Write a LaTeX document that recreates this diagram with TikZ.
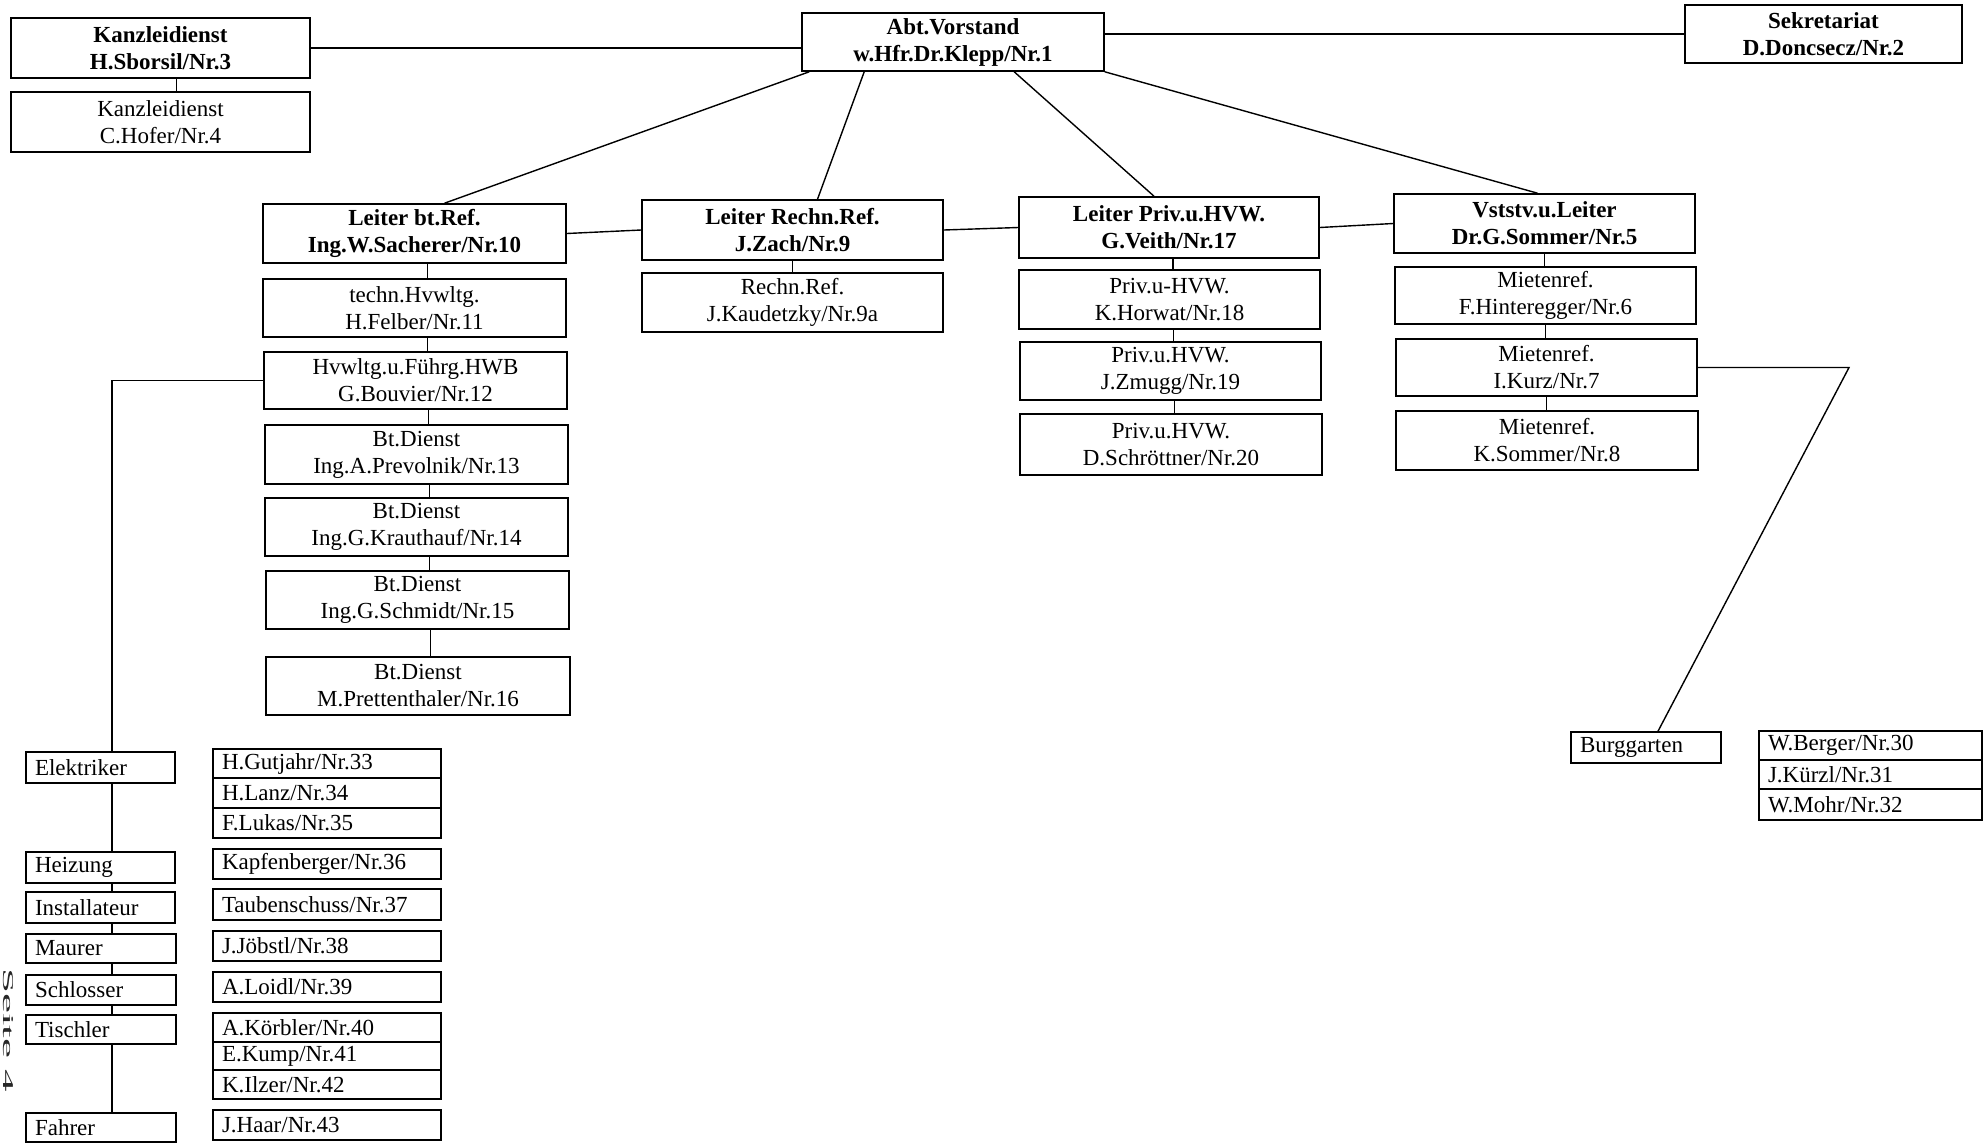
\documentclass[tikz,border=0pt]{standalone}
\usepackage{fontspec}
\setmainfont{Liberation Serif}
\usetikzlibrary{backgrounds}
\tikzset{
  box/.style={draw, fill=white, line width=1.6pt, inner sep=0pt, align=center},
  head/.style={box, font=\bfseries\fontsize{23}{27}\selectfont},
  std/.style={box, font=\fontsize{23}{27}\selectfont},
  lbox/.style={draw, fill=white, line width=1.6pt, inner xsep=9pt, inner ysep=0pt, align=left, font=\fontsize{23}{26}\selectfont},
  link/.style={line width=1.4pt},
}
\newcommand{\orgbox}[7]{%
  \pgfmathsetmacro\obx{(#3+#5)/2}%
  \pgfmathsetmacro\oby{(#4+#6)/2}%
  \pgfmathsetmacro\obw{#5-#3}%
  \pgfmathsetmacro\obh{#6-#4}%
  \node[#1, minimum width=\obw pt, minimum height=\obh pt] (#2) at (\obx,\oby) {#7};}
\newcommand{\listbox}[6]{%
  \pgfmathsetmacro\obx{(#2+#4)/2}%
  \pgfmathsetmacro\oby{(#3+#5)/2}%
  \pgfmathsetmacro\obw{#4-#2-18}%
  \pgfmathsetmacro\obh{#5-#3}%
  \node[lbox, text width=\obw pt, minimum height=\obh pt] (#1) at (\obx,\oby) {#6};}
\newcommand{\vlink}[3]{\draw[link] ([xshift=#3pt]#1.south) -- ([xshift=#3pt]#1.south |- #2.north);}
\begin{document}
\begin{tikzpicture}[x=1pt, y=-1pt]
\useasboundingbox (0,0) rectangle (1985,1144);
% top row
\orgbox{head}{k1}{11}{18}{310}{78}{Kanzleidienst\\H.Sborsil/Nr.3}
\orgbox{std}{k2}{11}{92}{310}{152}{Kanzleidienst\\C.Hofer/Nr.4}
\orgbox{head}{abt}{802}{13}{1104}{71}{Abt.Vorstand\\w.Hfr.Dr.Klepp/Nr.1}
\orgbox{head}{sek}{1685}{5}{1962}{63}{Sekretariat\\D.Doncsecz/Nr.2}
% leaders
\orgbox{head}{l10}{263}{204}{566}{263}{Leiter bt.Ref.\\Ing.W.Sacherer/Nr.10}
\orgbox{head}{l9}{642}{200}{943}{260}{Leiter Rechn.Ref.\\J.Zach/Nr.9}
\orgbox{head}{l17}{1019}{197}{1319}{258}{Leiter Priv.u.HVW.\\G.Veith/Nr.17}
\orgbox{head}{l5}{1394}{194}{1695}{253}{Vststv.u.Leiter\\Dr.G.Sommer/Nr.5}
% column 1
\orgbox{std}{n11}{263}{279}{566}{337}{techn.Hvwltg.\\H.Felber/Nr.11}
\orgbox{std}{n12}{264}{352}{567}{409}{Hvwltg.u.Führg.HWB\\G.Bouvier/Nr.12}
\orgbox{std}{n13}{265}{425}{568}{484}{Bt.Dienst\\Ing.A.Prevolnik/Nr.13}
\orgbox{std}{n14}{265}{498}{568}{556}{Bt.Dienst\\Ing.G.Krauthauf/Nr.14}
\orgbox{std}{n15}{266}{571}{569}{629}{Bt.Dienst\\Ing.G.Schmidt/Nr.15}
\orgbox{std}{n16}{266}{657}{570}{715}{Bt.Dienst\\M.Prettenthaler/Nr.16}
% column 2
\orgbox{std}{n9a}{642}{273}{943}{332}{Rechn.Ref.\\J.Kaudetzky/Nr.9a}
% column 3
\orgbox{std}{n18}{1019}{270}{1320}{329}{Priv.u-HVW.\\K.Horwat/Nr.18}
\orgbox{std}{n19}{1020}{342}{1321}{400}{Priv.u.HVW.\\J.Zmugg/Nr.19}
\orgbox{std}{n20}{1020}{414}{1322}{475}{Priv.u.HVW.\\D.Schröttner/Nr.20}
% column 4
\orgbox{std}{n6}{1395}{267}{1696}{324}{Mietenref.\\F.Hinteregger/Nr.6}
\orgbox{std}{n7}{1396}{339}{1697}{396}{Mietenref.\\I.Kurz/Nr.7}
\orgbox{std}{n8}{1396}{411}{1698}{470}{Mietenref.\\K.Sommer/Nr.8}
% Burggarten
\listbox{burg}{1571}{732}{1721}{763}{Burggarten}
\listbox{w30}{1759}{731}{1982}{760}{W.Berger/Nr.30}
\listbox{w31}{1759}{760}{1982}{789}{J.Kürzl/Nr.31}
\listbox{w32}{1759}{789}{1982}{820}{W.Mohr/Nr.32}
% trades
\listbox{elek}{26}{752}{175}{783}{Elektriker}
\listbox{heiz}{26}{852}{175}{883}{Heizung}
\listbox{inst}{26}{892}{175}{923}{Installateur}
\listbox{maur}{26}{934}{176}{963}{Maurer}
\listbox{schl}{26}{975}{176}{1005}{Schlosser}
\listbox{tisch}{26}{1015}{176}{1044}{Tischler}
\listbox{fahr}{26}{1113}{176}{1142}{Fahrer}
\listbox{g33}{213}{749}{441}{778}{H.Gutjahr/Nr.33}
\listbox{g34}{213}{778}{441}{808}{H.Lanz/Nr.34}
\listbox{g35}{213}{808}{441}{838}{F.Lukas/Nr.35}
\listbox{g36}{213}{849}{441}{879}{Kapfenberger/Nr.36}
\listbox{g37}{213}{889}{441}{920}{Taubenschuss/Nr.37}
\listbox{g38}{213}{931}{441}{961}{J.Jöbstl/Nr.38}
\listbox{g39}{213}{972}{441}{1002}{A.Loidl/Nr.39}
\listbox{g40}{213}{1013}{441}{1042}{A.Körbler/Nr.40}
\listbox{g41}{213}{1042}{441}{1070}{E.Kump/Nr.41}
\listbox{g42}{213}{1070}{441}{1099}{K.Ilzer/Nr.42}
\listbox{g43}{213}{1110}{441}{1140}{J.Haar/Nr.43}
% page marker at the left edge
\node[rotate=-90, inner sep=0pt, font=\fontsize{15}{15}\selectfont, text=black!85] (seite) at (8,1030) {\scalebox{3}[1]{Seite 4}};
\coordinate (tl) at (112,0);
\coordinate (kb) at (1849,0);
\begin{scope}[on background layer]
  \fill[white] (0,0) rectangle (1985,1144);
  \vlink{k1}{k2}{16}
  \draw[link] (k1.east) -- (k1.east -| abt.west);
  \draw[link] (sek.west -| abt.east) -- (sek.west);
  \draw[link] ([xshift=8pt]abt.south west) -- ([xshift=30pt]l10.north);
  \draw[link] ([xshift=63pt]abt.south west) -- ([xshift=25pt]l9.north);
  \draw[link] ([xshift=213pt]abt.south west) -- ([xshift=-15pt]l17.north);
  \draw[link] (abt.south east) -- ([xshift=-7pt]l5.north);
  \draw[link] (l10.east) -- (l9.west);
  \draw[link] (l9.east) -- (l17.west);
  \draw[link] (l17.east) -- (l5.west);
  \vlink{l10}{n11}{13}
  \vlink{n11}{n12}{13}
  \vlink{n12}{n13}{13}
  \vlink{n13}{n14}{13}
  \vlink{n14}{n15}{13}
  \vlink{n15}{n16}{13}
  \vlink{l9}{n9a}{0}
  \vlink{l17}{n18}{4}
  \vlink{n18}{n19}{4}
  \vlink{n19}{n20}{4}
  \vlink{l5}{n6}{0}
  \vlink{n6}{n7}{0}
  \vlink{n7}{n8}{0}
  \draw[link] (n12.west) -- (n12.west -| tl) -- (tl |- fahr.north);
  \draw[link] (n7.east) -- (n7.east -| kb) -- ([xshift=12pt]burg.north);
\end{scope}
\end{tikzpicture}
\end{document}
